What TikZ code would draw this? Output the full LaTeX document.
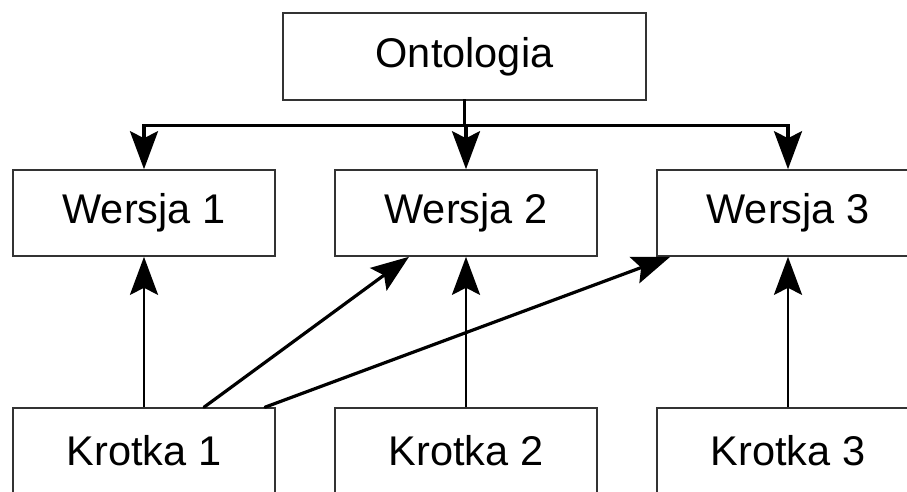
\documentclass[tikz,border=0pt]{standalone}
\usepackage{fontspec}
\setmainfont{Liberation Sans}
\usetikzlibrary{arrows.meta,calc}
\begin{document}
\begin{tikzpicture}[x=1pt,y=-1pt,
  box/.style={draw=black!80, line width=1.6pt, minimum width=262pt, minimum height=86pt,
              inner sep=0pt, fill=white, font=\fontsize{41.5}{48}\selectfont},
  headtip/.style={-{Stealth[length=38pt,width=28pt,inset=7pt]}},
  busline/.style={line width=3.2pt, line cap=rect},
  upline/.style={line width=2.8pt},
  diagline/.style={line width=3.2pt, line cap=round}]
\useasboundingbox (0,0) rectangle (907,491);
\clip (0,0) rectangle (907,491);
\node[box, minimum width=363pt, minimum height=87pt] (onto) at (464.5,56.5) {Ontologia};
\node[box] (w1) at (144,213) {Wersja 1};
\node[box] (w2) at (466,213) {Wersja 2};
\node[box] (w3) at (788,213) {Wersja 3};
\node[box] (k1) at (144,451) {Krotka 1};
\node[box] (k2) at (466,451) {Krotka 2};
\node[box] (k3) at (788,451) {Krotka 3};
% bus from Ontologia
\coordinate (j) at ($(onto.south)+(0,25)$);
\draw[busline] (onto.south) -- (j);
\draw[busline, headtip] (j) -| (w1.north);
\draw[busline, headtip] (j) -| (w3.north);
\draw[busline, headtip] (j) -- (j -| w2.north) -- (w2.north);
% vertical arrows
\draw[upline, headtip] (k1.north) -- (w1.south);
\draw[upline, headtip] (k2.north) -- (w2.south);
\draw[upline, headtip] (k3.north) -- (w3.south);
% diagonals
\coordinate (d1s) at ($(k1.north)+(60,0)$);
\coordinate (d1e) at ($(w2.south)+(-57,0)$);
\coordinate (d2s) at ($(k1.north)+(121,0)$);
\coordinate (d2e) at ($(w3.south west)+(14,0)$);
\draw[diagline, headtip] (d1s) -- (d1e);
\draw[diagline, headtip] (d2s) -- (d2e);
\end{tikzpicture}
\end{document}
